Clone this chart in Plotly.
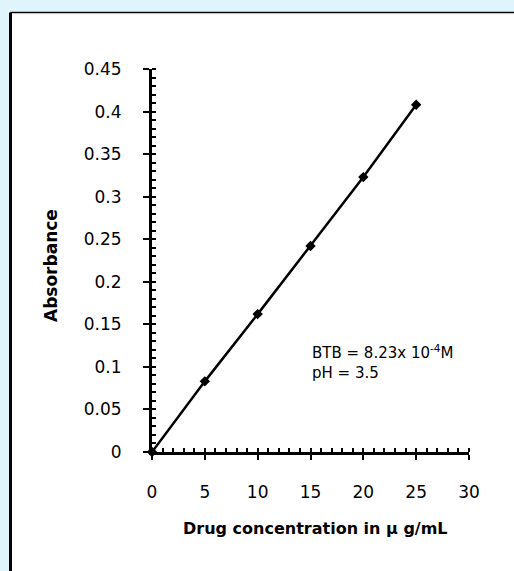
import plotly.graph_objects as go

# Data
concentration = [0, 5, 10, 15, 20, 25]          # µg/mL
absorbance = [0.0, 0.083, 0.162, 0.242, 0.323, 0.408]

x_ticks = [0, 5, 10, 15, 20, 25, 30]
y_ticks = [0, 0.05, 0.1, 0.15, 0.2, 0.25, 0.3, 0.35, 0.4, 0.45]
y_tick_labels = ["0", "0.05", "0.1", "0.15", "0.2", "0.25", "0.3", "0.35", "0.4", "0.45"]

W, H = 514, 571
L, R, T, B = 152, 45, 69, 119
pw, ph = W - L - R, H - T - B

def px_x(px):
    return (px - L) / pw

def px_y(py):
    return (H - B - py) / ph

FONT = "DejaVu Sans, Liberation Sans, Arial, sans-serif"

fig = go.Figure()
fig.add_trace(go.Scatter(
    x=concentration, y=absorbance, mode="lines+markers",
    line=dict(color="black", width=2.5),
    marker=dict(color="black", size=8, symbol="diamond"),
    showlegend=False, cliponaxis=False,
))

fig.update_layout(
    width=W, height=H,
    margin=dict(l=L, r=R, t=T, b=B, autoexpand=False),
    paper_bgcolor="#dff4fb",
    plot_bgcolor="white",
    font=dict(family=FONT, color="black", size=17),
    xaxis=dict(
        range=[0, 30], tickvals=x_ticks, showgrid=False, zeroline=False,
        showline=True, linecolor="black", linewidth=3,
        ticks="outside", ticklen=5, tickwidth=2, tickcolor="black",
        minor=dict(ticks="inside", dtick=1, ticklen=4, tickwidth=2, tickcolor="black", showgrid=False),
        ticklabelstandoff=18, tickfont=dict(size=17),
    ),
    yaxis=dict(
        range=[0, 0.45], tickvals=y_ticks, ticktext=y_tick_labels, showgrid=False, zeroline=False,
        showline=True, linecolor="black", linewidth=3,
        ticks="outside", ticklen=6, tickwidth=2, tickcolor="black",
        minor=dict(ticks="inside", dtick=0.01, ticklen=4, tickwidth=2, tickcolor="black", showgrid=False),
        ticklabelstandoff=18, tickfont=dict(size=17),
    ),
    shapes=[
        dict(type="rect", xref="paper", yref="paper", layer="below",
             x0=px_x(10), x1=px_x(530), y0=px_y(590), y1=px_y(12.5),
             fillcolor="white", line=dict(width=0)),
        dict(type="line", xref="paper", yref="paper",
             x0=px_x(10.5), x1=px_x(530), y0=px_y(12.5), y1=px_y(12.5),
             line=dict(color="black", width=1.5)),
        dict(type="line", xref="paper", yref="paper",
             x0=px_x(10.5), x1=px_x(10.5), y0=px_y(12.5), y1=px_y(590),
             line=dict(color="black", width=3)),
    ],
    annotations=[
        dict(text="<b>Drug concentration in µ g/mL</b>", xref="paper", yref="paper",
             x=px_x(315), y=px_y(528), showarrow=False, font=dict(size=16),
             xanchor="center", yanchor="middle"),
        dict(text="<b>Absorbance</b>", xref="paper", yref="paper",
             x=px_x(51), y=px_y(266), showarrow=False, font=dict(size=17),
             textangle=-90, xanchor="center", yanchor="middle"),
        dict(text="BTB = 8.23x 10<sup>-4</sup>M<br>pH = 3.5", xref="paper", yref="paper",
             x=px_x(310), y=px_y(362), showarrow=False, font=dict(size=15),
             align="left", xanchor="left", yanchor="middle"),
    ],
)

fig.write_html(
    "out.html",
    config={"displayModeBar": False},
    post_script="document.body.style.margin='0px';document.body.style.background='#dff4fb';",
)
